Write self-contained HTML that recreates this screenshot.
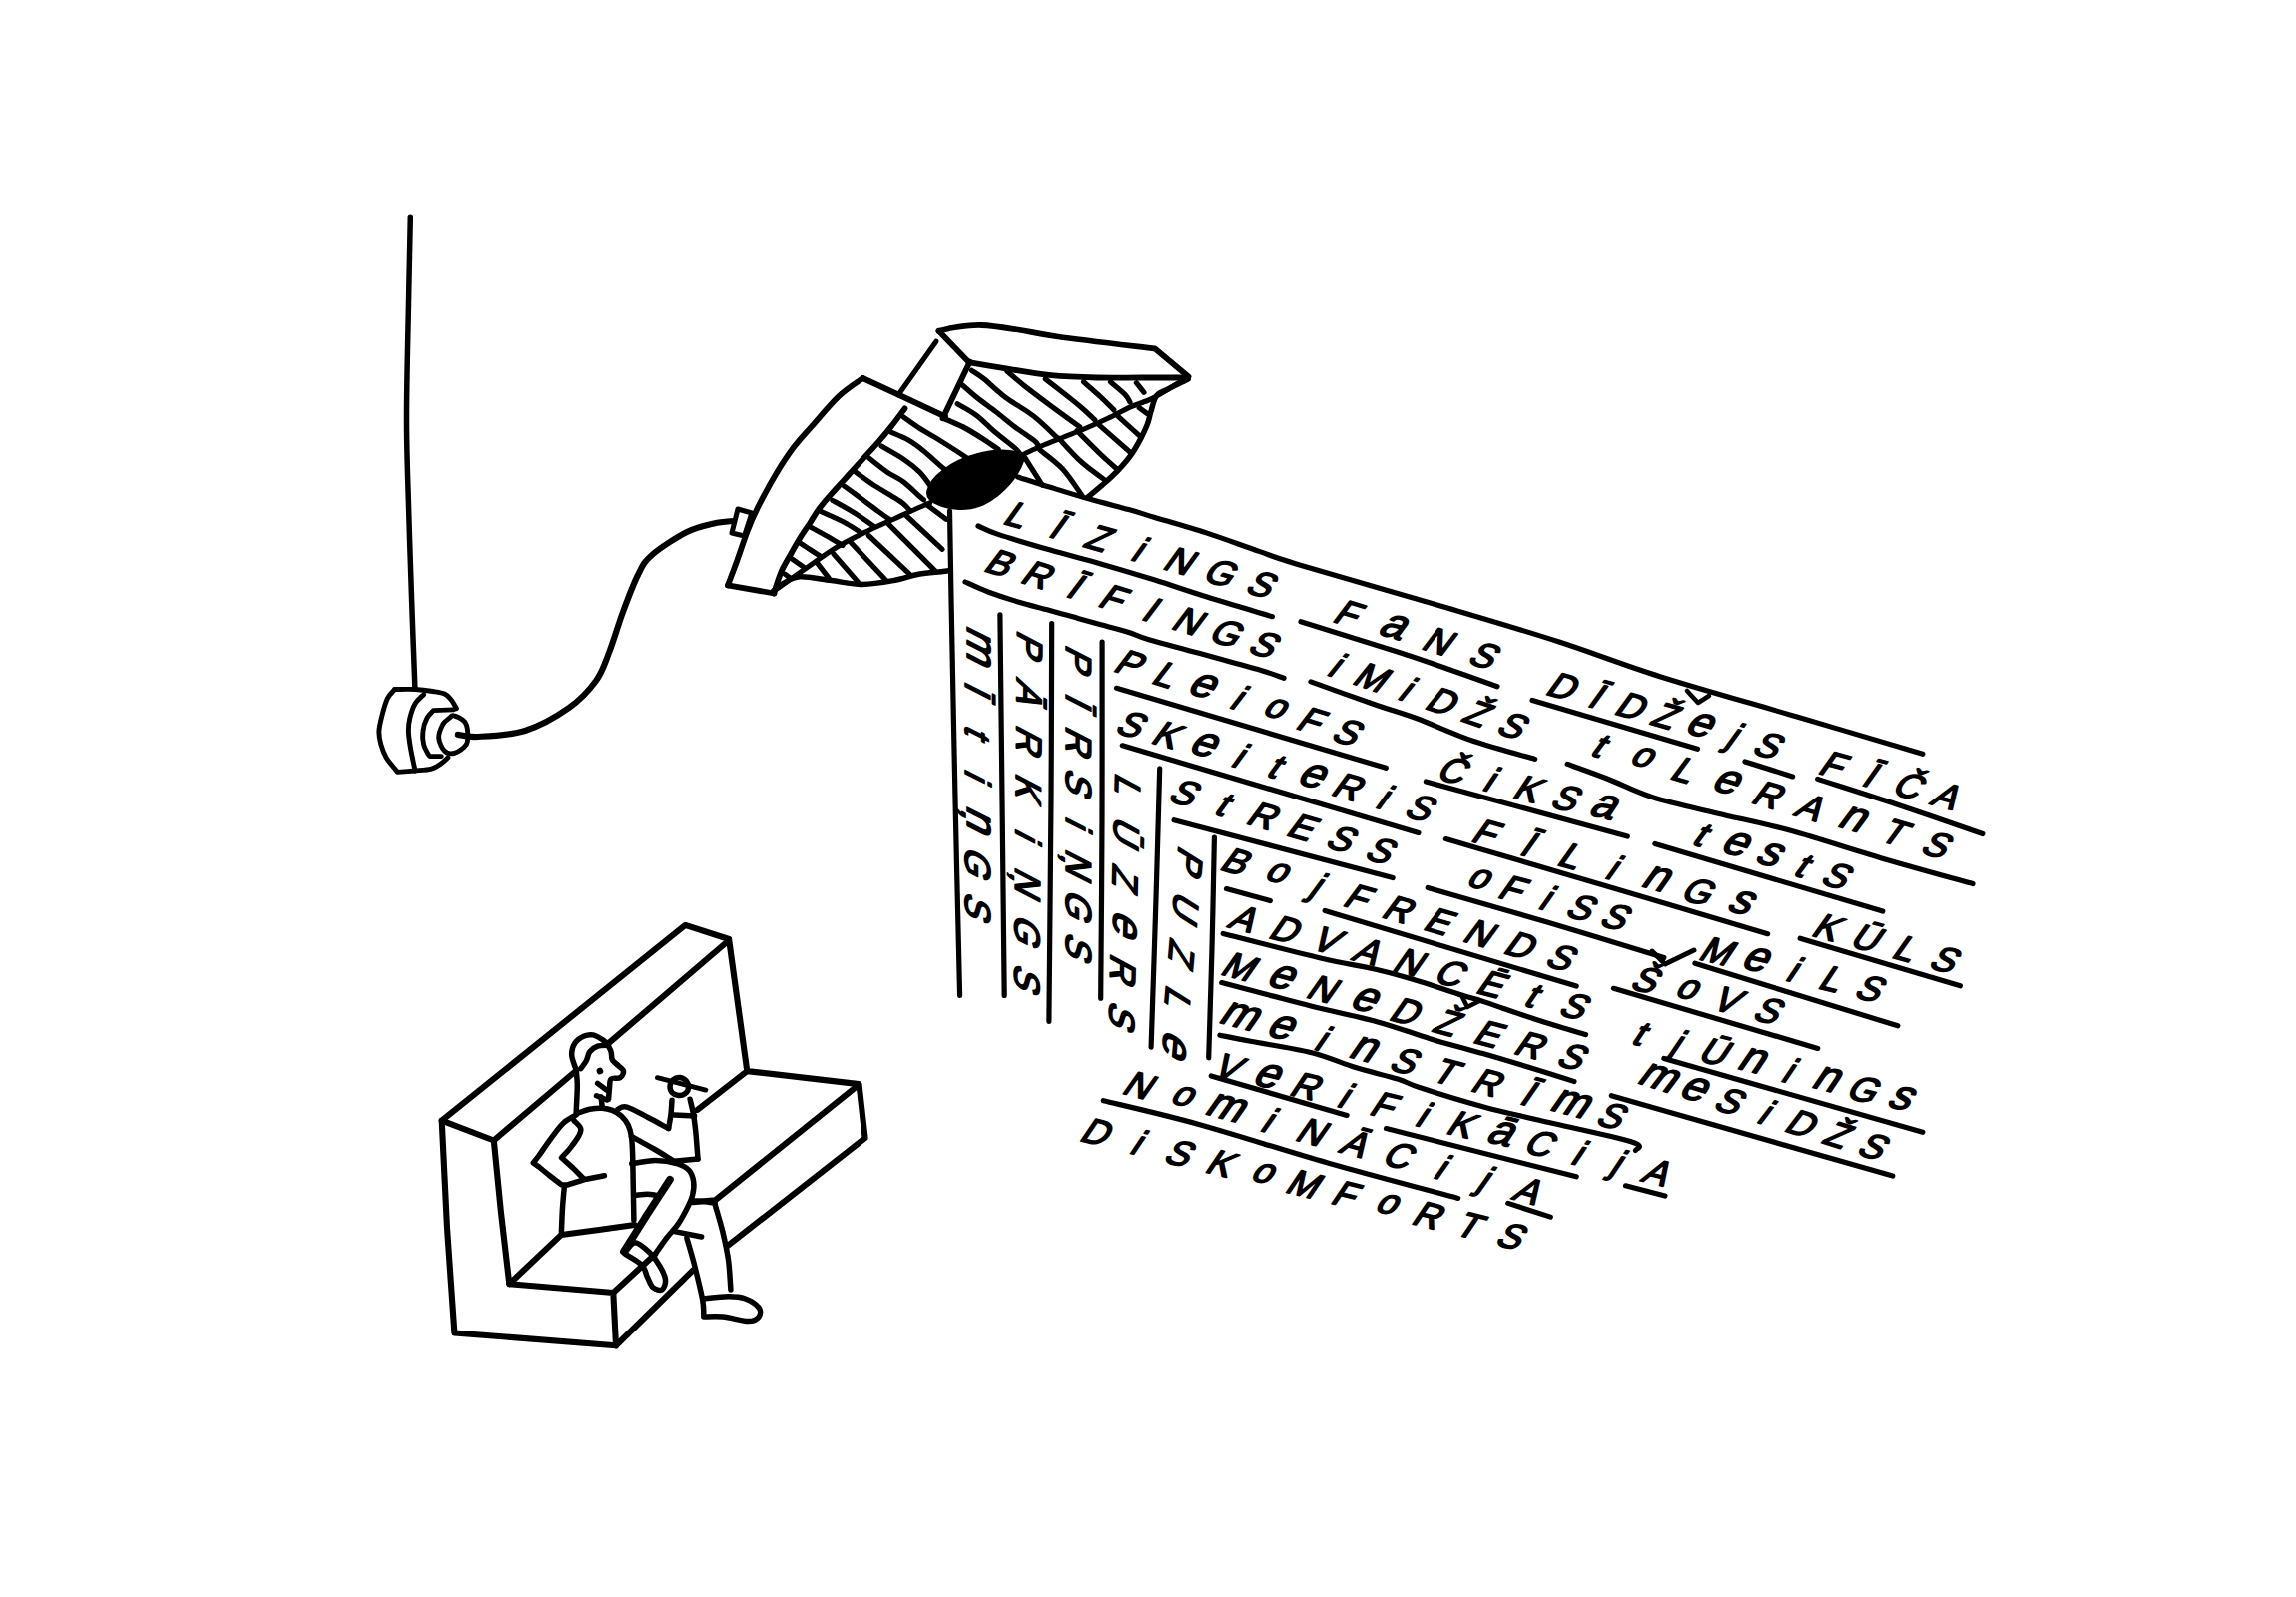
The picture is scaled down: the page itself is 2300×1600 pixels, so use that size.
<!DOCTYPE html>
<html><head><meta charset="utf-8"><title>drawing</title>
<style>html,body{margin:0;padding:0;background:#fff;width:2300px;height:1600px;overflow:hidden}
svg{display:block}</style></head>
<body><svg xmlns="http://www.w3.org/2000/svg" width="2300" height="1600" viewBox="0 0 2300 1600">
<rect width="2300" height="1600" fill="#fff"/>
<g stroke="#000" stroke-linecap="round" stroke-linejoin="round" fill="none">
<path d="M411.3,217.2 C411,230 410.3,260.2 409.7,293.8 C409.1,327.4 407.5,382.4 407.5,418.8 C407.5,455.2 408.8,481.2 409.7,512.5 C410.6,543.8 411.8,576.9 412.8,606.3 C413.8,635.7 415.4,675.2 415.9,689" stroke-width="5.5" fill="none"/>
<path d="M395.6,690.5 C394.4,692 390.5,695.4 388.4,699.7 C386.3,704 384.5,710.7 383.1,716.2 C381.7,721.7 380.1,727.7 379.9,732.6 C379.7,737.5 380.6,741.3 381.8,745.7 C383,750.1 384.7,754.7 387.1,758.9 C389.5,763.1 394.4,768.3 396.3,770.7 C398.2,773.1 398,773 398.3,773.4 C401.2,773.2 410.3,772.5 416,772 C421.7,771.5 428.1,771.3 432.5,770.1 C436.9,768.9 439.6,766.7 442.3,764.8 C445,762.9 447.8,759.9 448.9,758.9" stroke-width="4.9" fill="none"/>
<path d="M395.6,690.5 C399,690.5 409.6,690.2 416,690.5 C422.4,690.8 428.9,691.7 433.8,692.5 C438.7,693.3 442.5,693.7 445.6,695.1 C448.7,696.5 450.2,698.6 452.2,701 C454.2,703.4 456.5,708.2 457.4,709.6" stroke-width="4.9" fill="none"/>
<path d="M424.6,695.8 C423.2,697.3 418.3,701.1 416,705 C413.7,708.9 411.9,714.8 410.8,719.4 C409.7,724 409.3,727.7 409.4,732.6 C409.5,737.5 410.5,743.5 411.4,749 C412.3,754.5 413.9,761.7 414.7,765.5 C415.5,769.3 415.8,770.9 416,772" stroke-width="4.9" fill="none"/>
<path d="M454.8,710.9 L434.4,711.6 C433.3,712.9 429.6,715.9 427.9,719.4 C426.1,722.9 424.4,728.2 423.9,732.6 C423.3,737 423.7,741.9 424.6,745.7 C425.5,749.5 428.1,753.6 429.2,755.6 C430.3,757.6 430.7,757.3 431,757.6 L442.3,757.6" stroke-width="4.9" fill="none"/>
<path d="M454.8,716.8 C457.3,717.3 463,720.1 465.3,722.7 C467.6,725.3 468.3,728.8 468.6,732.6 C468.9,736.4 469.5,742.1 467.3,745.7 C465.1,749.3 459.1,753.2 455.5,754.3 C451.9,755.4 448.2,754.8 445.6,752.3 C443,749.8 440,743.6 439.7,739.2 C439.4,734.8 441.9,729.3 443.6,726 C445.4,722.7 448.3,720.9 450.2,719.4 C452.1,717.9 452.3,716.2 454.8,716.8 Z" stroke-width="4.9" fill="none"/>
<path d="M458.8,735.9 C462.2,736.2 467.8,738.6 479,738 C490.2,737.4 510.8,736.8 526,732 C541.2,727.2 558.2,717.3 570,709 C581.8,700.7 590.3,691.2 597,682 C603.7,672.8 605.5,665.5 610,654 C614.5,642.5 619.2,626 624,613 C628.8,600 634.2,585.5 639,576 C643.8,566.5 644.8,563.2 653,556 C661.2,548.8 677.7,538.2 688,533 C698.3,527.8 707.2,526.3 715,524.5 C722.8,522.7 731.7,522.4 735,522" stroke-width="6.1" fill="none"/>
<!--LAMP-->
<path d="M864.3,379 C860.3,382 848.7,389.1 840.2,397.1 C831.7,405.1 820.7,418.6 813.2,427.1 C805.7,435.6 801.1,440.1 795.1,448.1 C789.1,456.1 783.1,465.2 777.1,475.2 C771.1,485.2 763.9,498.8 759.1,508.3 C754.4,517.8 752.1,523.3 748.6,532.3 C745.1,541.3 741.3,553.4 738,562.4 C734.7,571.4 730.5,582.4 729,586.4" stroke-width="5.8" fill="none"/>
<path d="M729,586.4 L775.6,594.5" stroke-width="5.8" fill="none"/>
<path d="M775,594.5 C776.2,590.9 779.8,579.1 782.5,572.8 C785.2,566.5 788.2,562.1 791.3,556.5 C794.4,550.9 798,544.4 801.3,539 C804.6,533.6 808.2,528.8 811.3,524 C814.4,519.2 816.5,515 820.1,510.2 C823.7,505.4 828.4,500 832.6,495.2 C836.8,490.4 841.3,485.6 845.1,481.4 C848.9,477.2 851.4,474.3 855.2,470.1 C859,465.9 863.5,461 867.7,456.4 C871.9,451.8 876,447.4 880.2,442.6 C884.4,437.8 888.3,433.1 892.7,427.6 C897.1,422.1 904.2,412.4 906.5,409.4" stroke-width="5.8" fill="none"/>
<path d="M864.3,379 L900,395.5 L947,417.5" stroke-width="5.8" fill="none"/>
<path d="M739,510 L753,514 L745.5,537 L733,534 Z" stroke-width="5.1" fill="white"/>
<path d="M937.9,342.2 L900,395.8" stroke-width="5.1" fill="none"/>
<path d="M971.7,362.6 L944.5,419.3" stroke-width="5.8" fill="none"/>
<path d="M945.8,419.4 C949,420.8 958.5,424.6 965,428 C971.5,431.4 979.2,436.3 985,440 C990.8,443.7 997.5,448.6 1000,450.3" stroke-width="5.5" fill="none"/>
<path d="M940.5,331.8 C943.4,331.2 950.8,329 958,328 C965.2,327 973.3,325.6 983.6,326 C993.9,326.4 1007.3,328.6 1020,330.5 C1032.7,332.4 1037.2,334.3 1060,337.5 C1082.8,340.7 1140.8,347.5 1157,349.5 L1190.5,377.5" stroke-width="5.8" fill="none"/>
<path d="M970.6,363.1 C976.8,364.2 994.1,367.2 1007.9,369.4 C1021.7,371.6 1038.1,374.7 1053.2,376.2 C1068.3,377.7 1083.4,378.1 1098.5,378.5 C1113.6,378.9 1128.5,378.5 1143.8,378.5 C1159,378.5 1182.3,378.5 1190,378.5" stroke-width="5.8" fill="none"/>
<path d="M940.5,331.8 L970.6,363.1" stroke-width="5.8" fill="none"/>
<path d="M1190,380 C1186.7,381.7 1175.2,387.2 1170,390 C1164.8,392.8 1161.3,392.9 1158.5,396.6 C1155.7,400.4 1154.4,407.8 1152.9,412.5 C1151.4,417.2 1151.2,420.4 1149.5,424.9 C1147.8,429.4 1145.5,434.3 1142.7,439.6 C1139.9,444.9 1136.5,451.1 1132.5,456.6 C1128.5,462.1 1123.6,467.6 1118.9,472.5 C1114.2,477.4 1108.9,482 1104.2,486.1 C1099.5,490.2 1092.9,495.5 1090.6,497.4" stroke-width="5.5" fill="none"/>
<path d="M1024.9,455.5 C1027.7,454.2 1035.3,450.4 1041.9,447.6 C1048.5,444.8 1057,441.5 1064.6,438.5 C1072.1,435.5 1079.7,432.7 1087.2,429.5 C1094.8,426.3 1102.4,422.9 1109.9,419.3 C1117.5,415.7 1125,411.3 1132.5,407.9 C1140,404.5 1146.7,403.2 1155.2,398.9 C1163.7,394.6 1177.7,385.2 1183.5,381.9 C1189.3,378.6 1188.9,379.5 1190,379" stroke-width="5.1" fill="none"/>
<path d="M775,592 C775.4,591.7 772.1,594.2 777.5,590.4 C782.9,586.6 797.4,576.2 807.6,569.1 C817.8,562 828.5,554.1 838.9,547.8 C849.3,541.5 860.8,536.1 870.2,531.5 C879.6,526.9 887.9,523.5 895.2,520.2 C902.5,516.9 907.9,514.2 914,511.5 C920.1,508.8 928.7,505.2 931.6,503.9" stroke-width="5.1" fill="none"/>
<path d="M773.8,592.9 C775.7,591.4 780.4,586.6 785,584.1 C789.6,581.6 793.4,578.2 801.3,577.8 C809.2,577.4 822.2,580.3 832.6,581.6 C843,582.9 853.5,585.4 863.9,585.4 C874.3,585.4 885.8,583.3 895.2,581.6 C904.6,579.9 912.4,576.8 920.3,575.3 C928.2,573.8 937.5,573.4 942.8,572.8 C948.1,572.2 950.5,571.8 952,571.6" stroke-width="5.5" fill="none"/>
<path d="M905.1,417.8 C907.8,419.7 916,425.7 921.4,429.2 C926.8,432.7 930.8,434.7 937.6,438.9 C944.4,443.1 956.6,450.9 962,454.4 C967.4,457.9 968.8,459.2 970.2,460.1" stroke-width="5.2" fill="none"/>
<path d="M892.9,433.2 C895.6,434.4 903.8,437.5 909.2,440.6 C914.6,443.7 919.3,447.1 925.4,452 C931.5,456.9 941.4,466.4 945.8,469.9 C950.1,473.4 950.5,472.5 951.5,473" stroke-width="5.2" fill="none"/>
<path d="M883.1,447.1 C886.8,449.3 898.7,455.8 905.1,460.1 C911.5,464.4 916.6,468.4 921.4,473.1 C926.1,477.9 930.9,485.4 933.6,488.6 C936.3,491.9 936.9,491.9 937.6,492.6" stroke-width="5.2" fill="none"/>
<path d="M870.9,459.3 C873.9,461.6 883.1,469.2 888.8,473.1 C894.5,477 899.7,478.8 905.1,482.9 C910.5,487 918,494.5 921.4,497.5 C924.8,500.5 924.7,500.2 925.4,500.8" stroke-width="5.2" fill="none"/>
<path d="M857.1,473.1 C860.4,475.4 870.6,483 876.6,486.9 C882.6,490.8 888.1,493.7 892.9,496.7 C897.6,499.7 901.9,502.2 905.1,504.8 C908.3,507.4 910.9,510.8 912,512" stroke-width="5.2" fill="none"/>
<path d="M845.5,487 C848.6,489.3 858.5,496.5 864.4,500.8 C870.3,505.1 876.1,509.6 880.7,513 C885.3,516.4 890.1,519.7 892,521" stroke-width="5.2" fill="none"/>
<path d="M833.9,501.4 C837.6,503.5 849.1,509.7 856,514 C862.9,518.3 871.8,524.8 875,527" stroke-width="5.2" fill="none"/>
<path d="M822.6,512.7 C826.3,514.4 838.3,519.5 845,523 C851.7,526.5 860,532.2 863,534" stroke-width="5.2" fill="none"/>
<path d="M811.3,527.7 C814.1,529.2 822.5,533.9 828,537 C833.5,540.1 841.3,544.9 844,546.5" stroke-width="5.2" fill="none"/>
<path d="M801.3,544 C803.1,545.2 808.5,548.7 812,551 C815.5,553.3 820.8,556.7 822.6,557.8" stroke-width="5.2" fill="none"/>
<path d="M793.8,560.3 L806.3,569.1" stroke-width="5.2" fill="none"/>
<path d="M786.3,575.3 L791.3,579.1" stroke-width="5.2" fill="none"/>
<path d="M927.8,505.2 L947.8,520.2" stroke-width="5.2" fill="none"/>
<path d="M907.8,516.5 L944.1,550.3" stroke-width="5.2" fill="none"/>
<path d="M890.2,525.2 L936.6,571.6" stroke-width="5.2" fill="none"/>
<path d="M870.2,536.5 L911.5,575.3" stroke-width="5.2" fill="none"/>
<path d="M852.7,544 L887.7,581.6" stroke-width="5.2" fill="none"/>
<path d="M835.1,555.3 L861.4,585.4" stroke-width="5.2" fill="none"/>
<path d="M817.6,562.8 L830.1,579.1" stroke-width="5.2" fill="none"/>
<path d="M973.5,371.3 C975.6,372.7 980.4,375.4 986,379.9 C991.6,384.4 998.8,391.9 1007.1,398.1 C1015.4,404.3 1027,410.4 1035.8,417.3 C1044.6,424.2 1055.8,435.6 1059.8,439.3" stroke-width="5.2" fill="none"/>
<path d="M1009,372.2 C1011.9,374.6 1019.3,381.2 1026.2,386.6 C1033.1,392 1040.9,397.9 1050.2,404.8 C1059.5,411.7 1076.5,424 1081.8,427.8" stroke-width="5.2" fill="none"/>
<path d="M1047.3,379.9 C1050.2,382.1 1058.5,388.5 1064.6,393.3 C1070.7,398.1 1078.3,404.1 1083.7,408.7 C1089.1,413.3 1094.8,418.9 1097,421" stroke-width="5.2" fill="none"/>
<path d="M1085.6,382.8 C1088.5,385.4 1097.8,393.4 1102.9,398.1 C1108,402.8 1113.8,408.9 1116,411" stroke-width="5.2" fill="none"/>
<path d="M1112.5,382.8 C1114.9,384.9 1123.7,391.8 1126.9,395.2 C1130.2,398.6 1131.2,401.7 1132,403" stroke-width="5.2" fill="none"/>
<path d="M1138.4,383.7 L1146,393.3" stroke-width="5.2" fill="none"/>
<path d="M964,385.7 C966.4,387.8 972.7,393.6 978.3,398.1 C983.9,402.6 991.1,407.6 997.5,412.5 C1003.9,417.4 1010.3,423 1016.7,427.8 C1023.1,432.6 1031.9,438.2 1035.8,441.2 C1039.7,444.2 1039.3,445.2 1040,446" stroke-width="5.2" fill="none"/>
<path d="M959.2,404.8 C962.4,406.7 971.9,411.5 978.3,416.3 C984.7,421.1 991.1,428.2 997.5,433.6 C1003.9,439 1012.6,445.3 1016.7,448.9 C1020.8,452.5 1021.1,454 1022,455" stroke-width="5.2" fill="none"/>
<path d="M1027,459 L1044.2,486.1" stroke-width="5.2" fill="none"/>
<path d="M1041.9,451 C1045.7,454.2 1057.6,462.4 1064.6,470 C1071.6,477.6 1080.6,491.9 1083.8,496.3" stroke-width="5.2" fill="none"/>
<path d="M1060.7,439.3 C1064.5,443.3 1075.9,456.3 1083.7,463.3 C1091.5,470.3 1103.6,478.5 1107.6,481.5" stroke-width="5.2" fill="none"/>
<path d="M1078.9,431.7 C1082.9,435.7 1096,449.1 1102.9,455.6 C1109.8,462.2 1117.2,468.4 1120.1,471" stroke-width="5.2" fill="none"/>
<path d="M1101,425.9 L1131.6,452.7" stroke-width="5.2" fill="none"/>
<path d="M1120.1,417.3 L1142.2,437.4" stroke-width="5.2" fill="none"/>
<path d="M1141.2,408.7 L1148.9,414.4" stroke-width="5.2" fill="none"/>
<path d="M929.5,493 C932,478 955,462 978,456 C995,451 1015,450 1026,457 C1022,475 1005,495 985,505 C970,512 950,510 940,505 C933,502 929,498 929.5,493 Z" stroke-width="2.9" fill="black"/>
<!--SCREEN-->
<path d="M951.5,512 C951.8,526.7 952.1,552 953,600 C953.9,648 955.6,733.8 957,800 C958.4,866.2 960.8,964.5 961.6,997.4" stroke-width="5.2" fill="none"/>
<path d="M1001.9,615.8 C1002.2,646.5 1003.3,736.4 1004,800 C1004.7,863.6 1005.8,964.5 1006.2,997.4" stroke-width="5.2" fill="none"/>
<path d="M1053.7,624.5 C1053.6,653.8 1053.5,733.5 1053,800 C1052.5,866.5 1051.2,986.1 1050.9,1023.3" stroke-width="5.2" fill="none"/>
<path d="M1104.1,643.2 C1104.1,672.7 1104.2,760.5 1104,820 C1103.8,879.5 1102.9,970.2 1102.7,1000.2" stroke-width="5.2" fill="none"/>
<path d="M1161.7,769.9 C1161.1,791.6 1159.4,853.5 1158,900 C1156.6,946.5 1153.9,1024.3 1153.1,1049.2" stroke-width="5.2" fill="none"/>
<path d="M1216.4,839 C1216,857.5 1215,913.2 1214,950 C1213,986.8 1211.2,1041.5 1210.7,1059.8" stroke-width="5.2" fill="none"/>
<path d="M1019.6,477.9 C1025,479.6 1040.3,484.6 1052.3,488.3 C1064.3,492 1078.4,496.4 1091.5,500.1 C1104.6,503.8 1119.8,507.6 1130.7,510.6 C1141.6,513.6 1143.7,514.5 1156.8,518.4 C1169.9,522.3 1191.7,528.4 1209.1,534.1 C1226.5,539.8 1246.1,547.2 1261.3,552.4 C1276.5,557.6 1268.5,556 1300,565.4 C1331.5,574.8 1406.3,596.1 1450,609 C1493.7,621.9 1526.5,631.5 1562,643 C1597.5,654.5 1623.2,665.2 1662.9,677.7 C1702.6,690.2 1756.2,705.1 1800,718 C1843.8,730.9 1904.8,749.1 1925.8,755.3" stroke-width="5.2" fill="none"/>
<path d="M980,527 C983.3,528.4 988,531.4 1000,535.4 C1012,539.4 1034.9,546.1 1052.3,551.1 C1069.7,556.1 1087.1,560.4 1104.5,565.4 C1121.9,570.4 1139.4,575.6 1156.8,581.1 C1174.2,586.6 1189.5,592 1209.1,598.1 C1228.7,604.2 1263.5,614.4 1274.4,617.7" stroke-width="5.2" fill="none"/>
<path d="M1303,622.7 C1319.2,627.8 1375.5,645.1 1400,653 C1424.5,660.9 1433.3,664.2 1450,670 C1466.7,675.8 1491.7,684.8 1500,687.7" stroke-width="5.2" fill="none"/>
<path d="M1535.1,701.5 L1700.4,750.3" stroke-width="5.2" fill="none"/>
<path d="M1748,762.9 L1795.6,777.9" stroke-width="5.2" fill="none"/>
<path d="M1820.7,780.4 C1833.9,784.7 1872.5,796.8 1900,806 C1927.5,815.2 1971.6,830.6 1985.9,835.5" stroke-width="5.2" fill="none"/>
<path d="M967,583 C970.8,584.7 981.2,589.7 990,593 C998.8,596.3 1010,600 1020,603 C1030,606 1040,608.3 1050,611 C1060,613.7 1071.7,617.1 1080,619.4 C1088.3,621.7 1091.7,622.7 1100,625 C1108.3,627.3 1121.7,630.6 1130,633.2 C1138.3,635.8 1138.3,637 1150,640.5 C1161.7,644 1181.7,649 1200,654 C1218.3,659 1245.7,666.3 1260,670.5 C1274.3,674.7 1281.7,677.8 1286,679.3" stroke-width="5.2" fill="none"/>
<path d="M1313,682.9 C1323.3,686.6 1357.5,698.9 1375,705 C1392.5,711.1 1401.2,713.1 1418,719.3 C1434.8,725.5 1455.6,735.4 1475.6,742.3 C1495.5,749.1 1527.3,757.4 1537.7,760.4" stroke-width="5.2" fill="none"/>
<path d="M1570.2,765.4 C1576.8,767.8 1595.8,774.4 1610,780 C1624.2,785.6 1637.3,793 1655.6,798.8 C1673.9,804.6 1697.1,809.5 1720,815 C1742.9,820.5 1764.5,824.4 1792.8,832.1 C1821.1,839.9 1859.5,852.6 1890,861.5 C1920.5,870.4 1961.7,881.6 1976,885.6" stroke-width="5.2" fill="none"/>
<path d="M1118.5,689.3 L1388.3,769.3" stroke-width="5.2" fill="none"/>
<path d="M1428.4,783 L1630.3,838" stroke-width="5.2" fill="none"/>
<path d="M1657.9,845.5 L1885.8,913.1" stroke-width="5.2" fill="none"/>
<path d="M1124.3,746.8 L1420.9,834.4" stroke-width="5.2" fill="none"/>
<path d="M1448.4,840.6 C1453.8,842.2 1452,841.6 1480.6,850 C1509.2,858.4 1571.7,876.7 1620,891 C1668.3,905.3 1745.5,928.2 1770.6,935.7" stroke-width="5.2" fill="none"/>
<path d="M1803.1,940.2 L1963.4,987.8" stroke-width="5.2" fill="none"/>
<path d="M1176.1,821.7 L1395.1,879.6" stroke-width="5.2" fill="none"/>
<path d="M1430.2,889.5 C1450.2,895.2 1510.5,912.3 1550,924 C1589.5,935.7 1647.4,953.7 1666.9,959.6" stroke-width="5.2" fill="none"/>
<path d="M1697.9,965.2 L1900.8,1027.8" stroke-width="5.2" fill="none"/>
<path d="M1228.5,890.6 L1272.3,902.6" stroke-width="5.2" fill="none"/>
<path d="M1327.1,912.5 L1579.2,988.1" stroke-width="5.2" fill="none"/>
<path d="M1616.5,990.3 L1820.7,1050.4" stroke-width="5.2" fill="none"/>
<path d="M1225.2,935.5 C1241.5,939.6 1297,954 1322.8,960 C1348.6,966 1363.4,967.8 1380,971.7 C1396.6,975.6 1408.4,979.1 1422.6,983.4 C1436.8,987.7 1454.5,993.9 1465.1,997.3 C1475.7,1000.7 1474,999.5 1486.4,1003.6 C1498.8,1007.7 1522.6,1016.2 1539.6,1021.7 C1556.6,1027.2 1580.4,1034.1 1588.6,1036.6" stroke-width="5.2" fill="none"/>
<path d="M1666.9,1060.4 L1925.8,1134.3" stroke-width="5.2" fill="none"/>
<path d="M1223.7,984.6 C1231.5,986.6 1255.2,992.9 1270.2,996.8 C1285.2,1000.7 1295.7,1003.7 1314,1008.2 C1332.3,1012.7 1360.1,1018.4 1380,1023.9 C1399.9,1029.3 1415.5,1035.6 1433.2,1040.9 C1450.9,1046.2 1468.7,1050.7 1486.4,1055.8 C1504.1,1060.9 1524.5,1067.1 1539.6,1071.7 C1554.7,1076.3 1570.8,1081.5 1577,1083.5" stroke-width="5.2" fill="none"/>
<path d="M1614.3,1097.7 L1895.8,1178.1" stroke-width="5.2" fill="none"/>
<path d="M1221.9,1037.2 C1227,1038.2 1237.2,1040.4 1252.6,1043.3 C1267.9,1046.2 1296.5,1050.3 1314,1054.7 C1331.5,1059.1 1343.5,1065.2 1357.8,1069.6 C1372.1,1074 1389.2,1077.6 1400,1081 C1410.8,1084.4 1408.2,1085.1 1422.6,1089.8 C1437,1094.5 1466.9,1103.7 1486.4,1109 C1505.9,1114.3 1515,1116 1539.6,1121.8 C1564.2,1127.6 1617.5,1138.6 1634,1143.7 C1650.5,1148.8 1637.7,1151 1638.4,1152.5" stroke-width="5.2" fill="none"/>
<path d="M1213.2,1078 L1349.1,1117.4" stroke-width="5.2" fill="none"/>
<path d="M1388.5,1130.6 L1579.2,1178.8" stroke-width="5.2" fill="none"/>
<path d="M1628.5,1187.8 L1667.9,1198.1" stroke-width="5.2" fill="none"/>
<path d="M1105.3,1102.7 C1121.1,1106.6 1162.5,1115.8 1200,1126.2 C1237.5,1136.6 1286.5,1152.6 1330,1165 C1373.5,1177.4 1438.9,1194.5 1460.7,1200.4" stroke-width="5.2" fill="none"/>
<path d="M1510.8,1205.4 L1553.3,1219.1" stroke-width="5.2" fill="none"/>
<path d="M1690,692 L1701,704 L1712,697" stroke-width="4.6" fill="none"/>
<path d="M1655,953 L1668,966 L1697,952" stroke-width="4.9" fill="none"/>
<path d="M1465,999 L1470,1009 L1482,1003" stroke-width="4.6" fill="none"/>
<!--TEXT-->
<g font-family="&quot;Liberation Sans&quot;, sans-serif" fill="black" stroke="black" text-anchor="middle">
<text transform="translate(1020.9,515.8) rotate(15.8) skewX(-20)" y="13" font-size="36" stroke-width="1.7">L</text>
<text transform="translate(1061.6,527.3) rotate(15.8) skewX(-20)" y="13" font-size="36" stroke-width="1.7">Ī</text>
<text transform="translate(1102.4,538.9) rotate(15.8) skewX(-20)" y="13" font-size="36" stroke-width="1.7">Z</text>
<text transform="translate(1143.1,550.4) rotate(15.8) skewX(-20)" y="13" font-size="36" stroke-width="1.7">i</text>
<text transform="translate(1183.8,561.9) rotate(15.8) skewX(-20)" y="13" font-size="36" stroke-width="1.7">N</text>
<text transform="translate(1224.6,573.5) rotate(15.8) skewX(-20)" y="13" font-size="36" stroke-width="1.7">G</text>
<text transform="translate(1265.3,585) rotate(15.8) skewX(-20)" y="13" font-size="36" stroke-width="1.7">S</text>
<text transform="translate(1352,614.4) rotate(17) skewX(-20)" y="13" font-size="36" stroke-width="1.7">F</text>
<text transform="translate(1397.5,628.3) rotate(17) skewX(-20)" y="11.2" font-size="43.2" stroke-width="1.7">a</text>
<text transform="translate(1443,642.2) rotate(17) skewX(-20)" y="13" font-size="36" stroke-width="1.7">N</text>
<text transform="translate(1488.5,656.1) rotate(17) skewX(-20)" y="13" font-size="36" stroke-width="1.7">S</text>
<text transform="translate(1567.4,687.4) rotate(15.9) skewX(-20)" y="13" font-size="36" stroke-width="1.7">D</text>
<text transform="translate(1601.7,697.2) rotate(15.9) skewX(-20)" y="13" font-size="36" stroke-width="1.7">Ī</text>
<text transform="translate(1636,707) rotate(15.9) skewX(-20)" y="13" font-size="36" stroke-width="1.7">D</text>
<text transform="translate(1670.3,716.8) rotate(15.9) skewX(-20)" y="13" font-size="36" stroke-width="1.7">Ž</text>
<text transform="translate(1704.6,726.6) rotate(15.9) skewX(-20)" y="11.2" font-size="43.2" stroke-width="1.7">e</text>
<text transform="translate(1738.9,736.4) rotate(15.9) skewX(-20)" y="13" font-size="36" stroke-width="1.7">j</text>
<text transform="translate(1773.2,746.2) rotate(15.9) skewX(-20)" y="13" font-size="36" stroke-width="1.7">S</text>
<text transform="translate(1838,766) rotate(15.4) skewX(-20)" y="13" font-size="36" stroke-width="1.7">F</text>
<text transform="translate(1875.9,776.4) rotate(15.4) skewX(-20)" y="13" font-size="36" stroke-width="1.7">Ī</text>
<text transform="translate(1913.7,786.8) rotate(15.4) skewX(-20)" y="13" font-size="36" stroke-width="1.7">Č</text>
<text transform="translate(1951.6,797.2) rotate(15.4) skewX(-20)" y="13" font-size="36" stroke-width="1.7">A</text>
<text transform="translate(1003.9,564.1) rotate(17.1) skewX(-20)" y="13" font-size="36" stroke-width="1.7">B</text>
<text transform="translate(1041.6,575.7) rotate(17.1) skewX(-20)" y="13" font-size="36" stroke-width="1.7">R</text>
<text transform="translate(1079.4,587.3) rotate(17.1) skewX(-20)" y="13" font-size="36" stroke-width="1.7">Ī</text>
<text transform="translate(1117.1,598.9) rotate(17.1) skewX(-20)" y="13" font-size="36" stroke-width="1.7">F</text>
<text transform="translate(1154.9,610.5) rotate(17.1) skewX(-20)" y="13" font-size="36" stroke-width="1.7">I</text>
<text transform="translate(1192.6,622.1) rotate(17.1) skewX(-20)" y="13" font-size="36" stroke-width="1.7">N</text>
<text transform="translate(1230.4,633.7) rotate(17.1) skewX(-20)" y="13" font-size="36" stroke-width="1.7">G</text>
<text transform="translate(1268.1,645.3) rotate(17.1) skewX(-20)" y="13" font-size="36" stroke-width="1.7">S</text>
<text transform="translate(1340.5,666.2) rotate(18.8) skewX(-20)" y="13" font-size="36" stroke-width="1.7">i</text>
<text transform="translate(1375.9,678.3) rotate(18.8) skewX(-20)" y="13" font-size="36" stroke-width="1.7">M</text>
<text transform="translate(1411.2,690.3) rotate(18.8) skewX(-20)" y="13" font-size="36" stroke-width="1.7">i</text>
<text transform="translate(1446.6,702.4) rotate(18.8) skewX(-20)" y="13" font-size="36" stroke-width="1.7">D</text>
<text transform="translate(1481.9,714.4) rotate(18.8) skewX(-20)" y="13" font-size="36" stroke-width="1.7">Ž</text>
<text transform="translate(1517.3,726.5) rotate(18.8) skewX(-20)" y="13" font-size="36" stroke-width="1.7">S</text>
<text transform="translate(1604.7,746.2) rotate(16.5) skewX(-20)" y="13" font-size="36" stroke-width="1.7">t</text>
<text transform="translate(1646.8,758.7) rotate(16.5) skewX(-20)" y="9.4" font-size="36" stroke-width="1.7">o</text>
<text transform="translate(1689,771.2) rotate(16.5) skewX(-20)" y="13" font-size="36" stroke-width="1.7">L</text>
<text transform="translate(1731.1,783.7) rotate(16.5) skewX(-20)" y="11.2" font-size="43.2" stroke-width="1.7">e</text>
<text transform="translate(1773.2,796.2) rotate(16.5) skewX(-20)" y="13" font-size="36" stroke-width="1.7">R</text>
<text transform="translate(1815.4,808.7) rotate(16.5) skewX(-20)" y="13" font-size="36" stroke-width="1.7">A</text>
<text transform="translate(1857.5,821.2) rotate(16.5) skewX(-20)" y="11.2" font-size="43.2" stroke-width="1.7">n</text>
<text transform="translate(1899.7,833.7) rotate(16.5) skewX(-20)" y="13" font-size="36" stroke-width="1.7">T</text>
<text transform="translate(1941.8,846.2) rotate(16.5) skewX(-20)" y="13" font-size="36" stroke-width="1.7">S</text>
<text transform="translate(1133.5,664.4) rotate(17.5) skewX(-20)" y="13" font-size="36" stroke-width="1.7">P</text>
<text transform="translate(1169.8,675.8) rotate(17.5) skewX(-20)" y="13" font-size="36" stroke-width="1.7">L</text>
<text transform="translate(1206.2,687.3) rotate(17.5) skewX(-20)" y="11.2" font-size="43.2" stroke-width="1.7">e</text>
<text transform="translate(1242.5,698.7) rotate(17.5) skewX(-20)" y="13" font-size="36" stroke-width="1.7">i</text>
<text transform="translate(1278.8,710.1) rotate(17.5) skewX(-20)" y="9.4" font-size="36" stroke-width="1.7">o</text>
<text transform="translate(1315.2,721.6) rotate(17.5) skewX(-20)" y="13" font-size="36" stroke-width="1.7">F</text>
<text transform="translate(1351.5,733) rotate(17.5) skewX(-20)" y="13" font-size="36" stroke-width="1.7">S</text>
<text transform="translate(1457.6,771.4) rotate(13.8) skewX(-20)" y="13" font-size="36" stroke-width="1.7">Č</text>
<text transform="translate(1495.3,780.7) rotate(13.8) skewX(-20)" y="13" font-size="36" stroke-width="1.7">i</text>
<text transform="translate(1533.1,790) rotate(13.8) skewX(-20)" y="13" font-size="36" stroke-width="1.7">K</text>
<text transform="translate(1570.8,799.3) rotate(13.8) skewX(-20)" y="13" font-size="36" stroke-width="1.7">S</text>
<text transform="translate(1608.6,808.6) rotate(13.8) skewX(-20)" y="11.2" font-size="43.2" stroke-width="1.7">a</text>
<text transform="translate(1706.6,836) rotate(16.9) skewX(-20)" y="13" font-size="36" stroke-width="1.7">t</text>
<text transform="translate(1740.4,846.3) rotate(16.9) skewX(-20)" y="11.2" font-size="43.2" stroke-width="1.7">e</text>
<text transform="translate(1774.2,856.6) rotate(16.9) skewX(-20)" y="11.2" font-size="43.2" stroke-width="1.7">s</text>
<text transform="translate(1808,866.9) rotate(16.9) skewX(-20)" y="13" font-size="36" stroke-width="1.7">t</text>
<text transform="translate(1841.8,877.2) rotate(16.9) skewX(-20)" y="13" font-size="36" stroke-width="1.7">S</text>
<text transform="translate(1135.1,725.4) rotate(16.1) skewX(-20)" y="13" font-size="36" stroke-width="1.7">S</text>
<text transform="translate(1171.3,735.9) rotate(16.1) skewX(-20)" y="13" font-size="36" stroke-width="1.7">K</text>
<text transform="translate(1207.5,746.4) rotate(16.1) skewX(-20)" y="11.2" font-size="43.2" stroke-width="1.7">e</text>
<text transform="translate(1243.7,756.8) rotate(16.1) skewX(-20)" y="13" font-size="36" stroke-width="1.7">i</text>
<text transform="translate(1279.9,767.3) rotate(16.1) skewX(-20)" y="13" font-size="36" stroke-width="1.7">t</text>
<text transform="translate(1316.1,777.8) rotate(16.1) skewX(-20)" y="11.2" font-size="43.2" stroke-width="1.7">e</text>
<text transform="translate(1352.3,788.2) rotate(16.1) skewX(-20)" y="13" font-size="36" stroke-width="1.7">R</text>
<text transform="translate(1388.5,798.7) rotate(16.1) skewX(-20)" y="13" font-size="36" stroke-width="1.7">i</text>
<text transform="translate(1424.7,809.2) rotate(16.1) skewX(-20)" y="13" font-size="36" stroke-width="1.7">S</text>
<text transform="translate(1491,834.1) rotate(15.5) skewX(-20)" y="13" font-size="36" stroke-width="1.7">F</text>
<text transform="translate(1533.5,845.9) rotate(15.5) skewX(-20)" y="13" font-size="36" stroke-width="1.7">Ī</text>
<text transform="translate(1575.9,857.6) rotate(15.5) skewX(-20)" y="13" font-size="36" stroke-width="1.7">L</text>
<text transform="translate(1618.4,869.4) rotate(15.5) skewX(-20)" y="13" font-size="36" stroke-width="1.7">i</text>
<text transform="translate(1660.9,881.1) rotate(15.5) skewX(-20)" y="11.2" font-size="43.2" stroke-width="1.7">n</text>
<text transform="translate(1703.3,892.9) rotate(15.5) skewX(-20)" y="13" font-size="36" stroke-width="1.7">G</text>
<text transform="translate(1745.8,904.6) rotate(15.5) skewX(-20)" y="11.2" font-size="43.2" stroke-width="1.7">s</text>
<text transform="translate(1832.7,928.9) rotate(15.4) skewX(-20)" y="13" font-size="36" stroke-width="1.7">K</text>
<text transform="translate(1871.8,939.7) rotate(15.4) skewX(-20)" y="13" font-size="36" stroke-width="1.7">Ū</text>
<text transform="translate(1910.8,950.4) rotate(15.4) skewX(-20)" y="13" font-size="36" stroke-width="1.7">L</text>
<text transform="translate(1949.9,961.2) rotate(15.4) skewX(-20)" y="13" font-size="36" stroke-width="1.7">S</text>
<text transform="translate(1188.4,794) rotate(16.4) skewX(-20)" y="13" font-size="36" stroke-width="1.7">S</text>
<text transform="translate(1227.7,805.6) rotate(16.4) skewX(-20)" y="13" font-size="36" stroke-width="1.7">t</text>
<text transform="translate(1267.1,817.2) rotate(16.4) skewX(-20)" y="13" font-size="36" stroke-width="1.7">R</text>
<text transform="translate(1306.4,828.7) rotate(16.4) skewX(-20)" y="13" font-size="36" stroke-width="1.7">E</text>
<text transform="translate(1345.8,840.3) rotate(16.4) skewX(-20)" y="13" font-size="36" stroke-width="1.7">S</text>
<text transform="translate(1385.1,851.9) rotate(16.4) skewX(-20)" y="13" font-size="36" stroke-width="1.7">S</text>
<text transform="translate(1483.1,881.1) rotate(15.2) skewX(-20)" y="9.4" font-size="36" stroke-width="1.7">o</text>
<text transform="translate(1517.4,890.4) rotate(15.2) skewX(-20)" y="13" font-size="36" stroke-width="1.7">F</text>
<text transform="translate(1551.7,899.8) rotate(15.2) skewX(-20)" y="13" font-size="36" stroke-width="1.7">i</text>
<text transform="translate(1586,909.1) rotate(15.2) skewX(-20)" y="13" font-size="36" stroke-width="1.7">S</text>
<text transform="translate(1620.3,918.4) rotate(15.2) skewX(-20)" y="13" font-size="36" stroke-width="1.7">S</text>
<text transform="translate(1722.3,952.7) rotate(13.7) skewX(-20)" y="13" font-size="36" stroke-width="1.7">M</text>
<text transform="translate(1760.5,962) rotate(13.7) skewX(-20)" y="11.2" font-size="43.2" stroke-width="1.7">e</text>
<text transform="translate(1798.8,971.4) rotate(13.7) skewX(-20)" y="13" font-size="36" stroke-width="1.7">i</text>
<text transform="translate(1837,980.7) rotate(13.7) skewX(-20)" y="13" font-size="36" stroke-width="1.7">L</text>
<text transform="translate(1875.2,990) rotate(13.7) skewX(-20)" y="13" font-size="36" stroke-width="1.7">S</text>
<text transform="translate(1240,863) rotate(16.4) skewX(-20)" y="13" font-size="36" stroke-width="1.7">B</text>
<text transform="translate(1280.8,875) rotate(16.4) skewX(-20)" y="9.4" font-size="36" stroke-width="1.7">o</text>
<text transform="translate(1321.5,887) rotate(16.4) skewX(-20)" y="13" font-size="36" stroke-width="1.7">j</text>
<text transform="translate(1362.2,899) rotate(16.4) skewX(-20)" y="13" font-size="36" stroke-width="1.7">F</text>
<text transform="translate(1403,911) rotate(16.4) skewX(-20)" y="13" font-size="36" stroke-width="1.7">R</text>
<text transform="translate(1443.8,923) rotate(16.4) skewX(-20)" y="13" font-size="36" stroke-width="1.7">E</text>
<text transform="translate(1484.5,935) rotate(16.4) skewX(-20)" y="13" font-size="36" stroke-width="1.7">N</text>
<text transform="translate(1525.2,947) rotate(16.4) skewX(-20)" y="13" font-size="36" stroke-width="1.7">D</text>
<text transform="translate(1566,959) rotate(16.4) skewX(-20)" y="13" font-size="36" stroke-width="1.7">S</text>
<text transform="translate(1651,981.5) rotate(14) skewX(-20)" y="13" font-size="36" stroke-width="1.7">Š</text>
<text transform="translate(1691.8,991.7) rotate(14) skewX(-20)" y="9.4" font-size="36" stroke-width="1.7">o</text>
<text transform="translate(1732.5,1001.9) rotate(14) skewX(-20)" y="13" font-size="36" stroke-width="1.7">V</text>
<text transform="translate(1773.3,1012.1) rotate(14) skewX(-20)" y="13" font-size="36" stroke-width="1.7">S</text>
<text transform="translate(1248,920.1) rotate(14.8) skewX(-20)" y="13" font-size="36" stroke-width="1.7">A</text>
<text transform="translate(1289.4,931.1) rotate(14.8) skewX(-20)" y="13" font-size="36" stroke-width="1.7">D</text>
<text transform="translate(1330.8,942) rotate(14.8) skewX(-20)" y="13" font-size="36" stroke-width="1.7">V</text>
<text transform="translate(1372.2,953) rotate(14.8) skewX(-20)" y="13" font-size="36" stroke-width="1.7">A</text>
<text transform="translate(1413.6,964) rotate(14.8) skewX(-20)" y="13" font-size="36" stroke-width="1.7">N</text>
<text transform="translate(1455,974.9) rotate(14.8) skewX(-20)" y="13" font-size="36" stroke-width="1.7">C</text>
<text transform="translate(1496.4,985.9) rotate(14.8) skewX(-20)" y="13" font-size="36" stroke-width="1.7">Ē</text>
<text transform="translate(1537.8,996.8) rotate(14.8) skewX(-20)" y="13" font-size="36" stroke-width="1.7">t</text>
<text transform="translate(1579.2,1007.8) rotate(14.8) skewX(-20)" y="13" font-size="36" stroke-width="1.7">S</text>
<text transform="translate(1645.3,1035) rotate(14.1) skewX(-20)" y="13" font-size="36" stroke-width="1.7">t</text>
<text transform="translate(1682.5,1044.4) rotate(14.1) skewX(-20)" y="13" font-size="36" stroke-width="1.7">j</text>
<text transform="translate(1719.7,1053.7) rotate(14.1) skewX(-20)" y="13" font-size="36" stroke-width="1.7">Ū</text>
<text transform="translate(1756.9,1063.1) rotate(14.1) skewX(-20)" y="11.2" font-size="43.2" stroke-width="1.7">n</text>
<text transform="translate(1794.2,1072.4) rotate(14.1) skewX(-20)" y="13" font-size="36" stroke-width="1.7">i</text>
<text transform="translate(1831.4,1081.8) rotate(14.1) skewX(-20)" y="11.2" font-size="43.2" stroke-width="1.7">n</text>
<text transform="translate(1868.6,1091.1) rotate(14.1) skewX(-20)" y="13" font-size="36" stroke-width="1.7">G</text>
<text transform="translate(1905.8,1100.5) rotate(14.1) skewX(-20)" y="11.2" font-size="43.2" stroke-width="1.7">s</text>
<text transform="translate(1243.5,968.4) rotate(15.1) skewX(-20)" y="13" font-size="36" stroke-width="1.7">M</text>
<text transform="translate(1285.2,979.6) rotate(15.1) skewX(-20)" y="11.2" font-size="43.2" stroke-width="1.7">e</text>
<text transform="translate(1326.9,990.9) rotate(15.1) skewX(-20)" y="13" font-size="36" stroke-width="1.7">N</text>
<text transform="translate(1368.6,1002.1) rotate(15.1) skewX(-20)" y="11.2" font-size="43.2" stroke-width="1.7">e</text>
<text transform="translate(1410.2,1013.3) rotate(15.1) skewX(-20)" y="13" font-size="36" stroke-width="1.7">D</text>
<text transform="translate(1451.9,1024.5) rotate(15.1) skewX(-20)" y="13" font-size="36" stroke-width="1.7">Ž</text>
<text transform="translate(1493.6,1035.8) rotate(15.1) skewX(-20)" y="13" font-size="36" stroke-width="1.7">E</text>
<text transform="translate(1535.3,1047) rotate(15.1) skewX(-20)" y="13" font-size="36" stroke-width="1.7">R</text>
<text transform="translate(1577,1058.2) rotate(15.1) skewX(-20)" y="13" font-size="36" stroke-width="1.7">S</text>
<text transform="translate(1662.9,1080.4) rotate(17.4) skewX(-20)" y="11.2" font-size="43.2" stroke-width="1.7">m</text>
<text transform="translate(1698.8,1091.7) rotate(17.4) skewX(-20)" y="11.2" font-size="43.2" stroke-width="1.7">e</text>
<text transform="translate(1734.7,1102.9) rotate(17.4) skewX(-20)" y="13" font-size="36" stroke-width="1.7">S</text>
<text transform="translate(1770.6,1114.2) rotate(17.4) skewX(-20)" y="13" font-size="36" stroke-width="1.7">i</text>
<text transform="translate(1806.4,1125.5) rotate(17.4) skewX(-20)" y="13" font-size="36" stroke-width="1.7">D</text>
<text transform="translate(1842.3,1136.7) rotate(17.4) skewX(-20)" y="13" font-size="36" stroke-width="1.7">Ž</text>
<text transform="translate(1878.2,1148) rotate(17.4) skewX(-20)" y="13" font-size="36" stroke-width="1.7">S</text>
<text transform="translate(1243.5,1018.8) rotate(14.8) skewX(-20)" y="11.2" font-size="43.2" stroke-width="1.7">m</text>
<text transform="translate(1284.9,1029.8) rotate(14.8) skewX(-20)" y="11.2" font-size="43.2" stroke-width="1.7">e</text>
<text transform="translate(1326.4,1040.7) rotate(14.8) skewX(-20)" y="13" font-size="36" stroke-width="1.7">i</text>
<text transform="translate(1367.8,1051.7) rotate(14.8) skewX(-20)" y="11.2" font-size="43.2" stroke-width="1.7">n</text>
<text transform="translate(1409.3,1062.6) rotate(14.8) skewX(-20)" y="13" font-size="36" stroke-width="1.7">S</text>
<text transform="translate(1450.7,1073.6) rotate(14.8) skewX(-20)" y="13" font-size="36" stroke-width="1.7">T</text>
<text transform="translate(1492.2,1084.5) rotate(14.8) skewX(-20)" y="13" font-size="36" stroke-width="1.7">R</text>
<text transform="translate(1533.6,1095.5) rotate(14.8) skewX(-20)" y="13" font-size="36" stroke-width="1.7">Ī</text>
<text transform="translate(1575.1,1106.4) rotate(14.8) skewX(-20)" y="11.2" font-size="43.2" stroke-width="1.7">m</text>
<text transform="translate(1616.5,1117.4) rotate(14.8) skewX(-20)" y="13" font-size="36" stroke-width="1.7">S</text>
<text transform="translate(1232,1069) rotate(13.7) skewX(-20)" y="13" font-size="36" stroke-width="1.7">V</text>
<text transform="translate(1271.1,1078.5) rotate(13.7) skewX(-20)" y="11.2" font-size="43.2" stroke-width="1.7">e</text>
<text transform="translate(1310.2,1088.1) rotate(13.7) skewX(-20)" y="13" font-size="36" stroke-width="1.7">R</text>
<text transform="translate(1349.3,1097.6) rotate(13.7) skewX(-20)" y="13" font-size="36" stroke-width="1.7">i</text>
<text transform="translate(1388.4,1107.2) rotate(13.7) skewX(-20)" y="13" font-size="36" stroke-width="1.7">F</text>
<text transform="translate(1427.5,1116.7) rotate(13.7) skewX(-20)" y="13" font-size="36" stroke-width="1.7">i</text>
<text transform="translate(1466.5,1126.3) rotate(13.7) skewX(-20)" y="13" font-size="36" stroke-width="1.7">K</text>
<text transform="translate(1505.6,1135.8) rotate(13.7) skewX(-20)" y="11.2" font-size="43.2" stroke-width="1.7">ā</text>
<text transform="translate(1544.7,1145.4) rotate(13.7) skewX(-20)" y="13" font-size="36" stroke-width="1.7">C</text>
<text transform="translate(1583.8,1154.9) rotate(13.7) skewX(-20)" y="13" font-size="36" stroke-width="1.7">i</text>
<text transform="translate(1622.9,1164.5) rotate(13.7) skewX(-20)" y="13" font-size="36" stroke-width="1.7">j</text>
<text transform="translate(1662,1174) rotate(13.7) skewX(-20)" y="13" font-size="36" stroke-width="1.7">A</text>
<text transform="translate(1142.9,1087) rotate(15.1) skewX(-20)" y="13" font-size="36" stroke-width="1.7">N</text>
<text transform="translate(1186.2,1098.7) rotate(15.1) skewX(-20)" y="9.4" font-size="36" stroke-width="1.7">o</text>
<text transform="translate(1229.6,1110.4) rotate(15.1) skewX(-20)" y="11.2" font-size="43.2" stroke-width="1.7">m</text>
<text transform="translate(1272.9,1122.2) rotate(15.1) skewX(-20)" y="13" font-size="36" stroke-width="1.7">i</text>
<text transform="translate(1316.3,1133.9) rotate(15.1) skewX(-20)" y="13" font-size="36" stroke-width="1.7">N</text>
<text transform="translate(1359.6,1145.6) rotate(15.1) skewX(-20)" y="13" font-size="36" stroke-width="1.7">Ā</text>
<text transform="translate(1403,1157.3) rotate(15.1) skewX(-20)" y="13" font-size="36" stroke-width="1.7">C</text>
<text transform="translate(1446.3,1169.1) rotate(15.1) skewX(-20)" y="13" font-size="36" stroke-width="1.7">i</text>
<text transform="translate(1489.7,1180.8) rotate(15.1) skewX(-20)" y="13" font-size="36" stroke-width="1.7">j</text>
<text transform="translate(1533,1192.5) rotate(15.1) skewX(-20)" y="13" font-size="36" stroke-width="1.7">A</text>
<text transform="translate(1100.3,1134) rotate(14) skewX(-20)" y="13" font-size="36" stroke-width="1.7">D</text>
<text transform="translate(1141.8,1144.4) rotate(14) skewX(-20)" y="13" font-size="36" stroke-width="1.7">i</text>
<text transform="translate(1183.4,1154.8) rotate(14) skewX(-20)" y="13" font-size="36" stroke-width="1.7">S</text>
<text transform="translate(1225,1165.2) rotate(14) skewX(-20)" y="13" font-size="36" stroke-width="1.7">K</text>
<text transform="translate(1266.5,1175.6) rotate(14) skewX(-20)" y="9.4" font-size="36" stroke-width="1.7">o</text>
<text transform="translate(1308,1186) rotate(14) skewX(-20)" y="13" font-size="36" stroke-width="1.7">M</text>
<text transform="translate(1349.6,1196.3) rotate(14) skewX(-20)" y="13" font-size="36" stroke-width="1.7">F</text>
<text transform="translate(1391.1,1206.7) rotate(14) skewX(-20)" y="9.4" font-size="36" stroke-width="1.7">o</text>
<text transform="translate(1432.7,1217.1) rotate(14) skewX(-20)" y="13" font-size="36" stroke-width="1.7">R</text>
<text transform="translate(1474.2,1227.5) rotate(14) skewX(-20)" y="13" font-size="36" stroke-width="1.7">T</text>
<text transform="translate(1515.8,1237.9) rotate(14) skewX(-20)" y="13" font-size="36" stroke-width="1.7">S</text>
<text transform="translate(980.3,649) rotate(90) skewX(-27)" y="11.2" font-size="43.2" stroke-width="1.7">m</text>
<text transform="translate(980.3,692.7) rotate(90) skewX(-27)" y="13" font-size="36" stroke-width="1.7">Ī</text>
<text transform="translate(980.3,736.3) rotate(90) skewX(-27)" y="13" font-size="36" stroke-width="1.7">t</text>
<text transform="translate(980.3,780) rotate(90) skewX(-27)" y="13" font-size="36" stroke-width="1.7">i</text>
<text transform="translate(980.3,823.7) rotate(90) skewX(-27)" y="11.2" font-size="43.2" stroke-width="1.7">ņ</text>
<text transform="translate(980.3,867.3) rotate(90) skewX(-27)" y="13" font-size="36" stroke-width="1.7">G</text>
<text transform="translate(980.3,911) rotate(90) skewX(-27)" y="13" font-size="36" stroke-width="1.7">S</text>
<text transform="translate(1032.1,649) rotate(90.5) skewX(-27)" y="13" font-size="36" stroke-width="1.7">P</text>
<text transform="translate(1031.7,696.7) rotate(90.5) skewX(-27)" y="13" font-size="36" stroke-width="1.7">Ā</text>
<text transform="translate(1031.3,744.4) rotate(90.5) skewX(-27)" y="13" font-size="36" stroke-width="1.7">R</text>
<text transform="translate(1030.9,792.1) rotate(90.5) skewX(-27)" y="13" font-size="36" stroke-width="1.7">K</text>
<text transform="translate(1030.5,839.9) rotate(90.5) skewX(-27)" y="13" font-size="36" stroke-width="1.7">i</text>
<text transform="translate(1030.1,887.6) rotate(90.5) skewX(-27)" y="13" font-size="36" stroke-width="1.7">Ņ</text>
<text transform="translate(1029.7,935.3) rotate(90.5) skewX(-27)" y="13" font-size="36" stroke-width="1.7">G</text>
<text transform="translate(1029.3,983) rotate(90.5) skewX(-27)" y="13" font-size="36" stroke-width="1.7">S</text>
<text transform="translate(1081.1,663.3) rotate(90) skewX(-27)" y="13" font-size="36" stroke-width="1.7">P</text>
<text transform="translate(1081.1,704.4) rotate(90) skewX(-27)" y="13" font-size="36" stroke-width="1.7">Ī</text>
<text transform="translate(1081.1,745.6) rotate(90) skewX(-27)" y="13" font-size="36" stroke-width="1.7">R</text>
<text transform="translate(1081.1,786.7) rotate(90) skewX(-27)" y="13" font-size="36" stroke-width="1.7">S</text>
<text transform="translate(1081.1,827.9) rotate(90) skewX(-27)" y="13" font-size="36" stroke-width="1.7">i</text>
<text transform="translate(1081.1,869) rotate(90) skewX(-27)" y="13" font-size="36" stroke-width="1.7">Ņ</text>
<text transform="translate(1081.1,910.2) rotate(90) skewX(-27)" y="13" font-size="36" stroke-width="1.7">G</text>
<text transform="translate(1081.1,951.3) rotate(90) skewX(-27)" y="13" font-size="36" stroke-width="1.7">S</text>
<text transform="translate(1130,790) rotate(91.4) skewX(-27)" y="13" font-size="36" stroke-width="1.7">L</text>
<text transform="translate(1128.9,836.1) rotate(91.4) skewX(-27)" y="13" font-size="36" stroke-width="1.7">Ū</text>
<text transform="translate(1127.7,882.2) rotate(91.4) skewX(-27)" y="13" font-size="36" stroke-width="1.7">Z</text>
<text transform="translate(1126.6,928.2) rotate(91.4) skewX(-27)" y="11.2" font-size="43.2" stroke-width="1.7">e</text>
<text transform="translate(1125.4,974.3) rotate(91.4) skewX(-27)" y="13" font-size="36" stroke-width="1.7">R</text>
<text transform="translate(1124.3,1020.4) rotate(91.4) skewX(-27)" y="13" font-size="36" stroke-width="1.7">S</text>
<text transform="translate(1192,866) rotate(95) skewX(-27)" y="13" font-size="36" stroke-width="1.7">P</text>
<text transform="translate(1188,911.8) rotate(95) skewX(-27)" y="13" font-size="36" stroke-width="1.7">U</text>
<text transform="translate(1184,957.5) rotate(95) skewX(-27)" y="13" font-size="36" stroke-width="1.7">Z</text>
<text transform="translate(1180,1003.2) rotate(95) skewX(-27)" y="13" font-size="36" stroke-width="1.7">L</text>
<text transform="translate(1176,1049) rotate(95) skewX(-27)" y="11.2" font-size="43.2" stroke-width="1.7">e</text>
</g>
<!--SOFA-->
<path d="M494.8,1142.5 L442.7,1122.7 L686.4,926.9 L730.1,941" stroke-width="6.1" fill="none"/>
<path d="M494.8,1142.5 L575,1074.5" stroke-width="6.1" fill="none"/>
<path d="M607.6,1046.9 L725.5,946" stroke-width="6.1" fill="none"/>
<path d="M442.7,1122.7 L448,1230 L455.4,1335.5 L617,1348.2" stroke-width="6.1" fill="none"/>
<path d="M494.8,1142.5 L502,1215 L510.3,1286.2 L614.3,1295 L617,1348.2" stroke-width="6.1" fill="none"/>
<path d="M510.3,1286.2 L562.4,1236.9" stroke-width="6.1" fill="none"/>
<path d="M562.4,1236.9 L600,1232 L635.7,1227" stroke-width="6.1" fill="none"/>
<path d="M730.1,941 L748.3,1073.1 L860.5,1086.1 L866.6,1140.2 L728.3,1248.4" stroke-width="6.1" fill="none"/>
<path d="M858.5,1088.1 L716.3,1202.3 L694.2,1204.3" stroke-width="6.1" fill="none"/>
<path d="M748.3,1073.1 L698.2,1112.1" stroke-width="6.1" fill="none"/>
<path d="M614.3,1295 L656.2,1256.4" stroke-width="6.1" fill="none"/>
<path d="M617,1348.2 L694.2,1272.4" stroke-width="6.1" fill="none"/>
<path d="M577.2,1072 C576.5,1069.5 572.9,1061.7 572.7,1057.2 C572.5,1052.7 574,1048 576.1,1044.8 C578.2,1041.6 582.1,1039.3 585.1,1038 C588.1,1036.7 591.1,1036.3 594.1,1036.9 C597.1,1037.5 600.7,1039.9 603.1,1041.4 C605.5,1042.9 607.8,1045.2 608.8,1045.9" stroke-width="5.5" fill="none"/>
<path d="M581.7,1070.7 C582.6,1069.4 585.8,1065.6 587.3,1062.8 C588.8,1060 588.8,1056.2 590.7,1053.8 C592.6,1051.4 595.6,1049.3 598.6,1048.2 C601.6,1047.1 607.1,1047.3 608.8,1047.1" stroke-width="5.5" fill="none"/>
<path d="M608.8,1046.5 C609.3,1047.7 611.4,1051.3 612.1,1053.8 C612.9,1056.3 612.2,1059.5 613.3,1061.7 C614.4,1064 617,1065.4 618.9,1067.3 C620.8,1069.2 624.1,1070.9 624.5,1073 C624.9,1075.1 623.3,1078.4 621.2,1079.7 C619.1,1081 613.9,1079.2 612.1,1080.9 C610.3,1082.6 610.9,1086.5 610.5,1089.9 C610.1,1093.3 609.7,1099.6 609.5,1101.5" stroke-width="5.5" fill="none"/>
<path d="M598.6,1085.4 L607.6,1092.1" stroke-width="5.5" fill="none"/>
<path d="M597.5,1097.8 L608,1102" stroke-width="5.5" fill="none"/>
<path d="M600.9,1073 L601,1073.2" stroke-width="6.5" fill="none"/>
<path d="M577.2,1072 C577.4,1074.6 578.3,1080.7 578.3,1087.6 C578.3,1094.5 577.4,1109.3 577.2,1113.6" stroke-width="5.5" fill="none"/>
<path d="M602,1099 L603.1,1107.9" stroke-width="5.5" fill="none"/>
<path d="M577.2,1115.8 C579.5,1115 586.4,1112.2 590.7,1111.3 C595,1110.4 599.3,1110 603.1,1110.2 C606.9,1110.4 610.1,1111.1 613.3,1112.4 C616.5,1113.7 619.7,1115.6 622.3,1118.1 C624.9,1120.5 627.4,1123.7 629.1,1127.1 C630.8,1130.5 631.6,1133.7 632.4,1138.4 C633.1,1143.1 633.3,1146.7 633.6,1155.3 C633.9,1163.9 634.1,1178.9 634.3,1190 C634.5,1201.1 634.8,1216.8 634.9,1222.1" stroke-width="5.5" fill="none"/>
<path d="M577.2,1117 C575.1,1118.3 568.8,1121.2 564.8,1124.8 C560.8,1128.4 557.6,1133 553.5,1138.4 C549.4,1143.9 543.2,1153.1 540,1157.5 C536.8,1161.9 535.2,1163.8 534.3,1165 L540,1169 C541.8,1170.5 547.2,1175 551,1178 C554.8,1181 560.6,1185.3 562.5,1186.8 L568.2,1187 L587.3,1181.2 L605.4,1177.8" stroke-width="5.5" fill="none"/>
<path d="M575,1122.6 C576.1,1123.9 581,1127.9 581.7,1130.5 C582.5,1133.1 581.2,1135.2 579.5,1138.4 C577.8,1141.6 574.4,1146 571.6,1149.6 C568.8,1153.2 564,1158.1 562.5,1159.8 L573.8,1169.9 L585.1,1181.2" stroke-width="5.5" fill="none"/>
<path d="M565.3,1189 C565,1192.5 564,1202.5 563.5,1210 C563,1217.5 562.6,1230 562.4,1234" stroke-width="5.5" fill="none"/>
<path d="M618.9,1111.3 C620.4,1110.9 622.7,1107.6 627.9,1109.1 C633.1,1110.5 643,1116.4 650,1120 C657,1123.6 666.3,1128.8 669.6,1130.5" stroke-width="5.5" fill="none"/>
<path d="M669.6,1130.5 C670,1128.2 671.3,1121.6 671.9,1116.9 C672.5,1112.2 672.8,1104.7 673,1102.3" stroke-width="5.5" fill="none"/>
<path d="M632.4,1138.4 C636.2,1140.5 647.9,1146.9 655,1151 C662.1,1155.1 671.9,1161.2 675.3,1163.2 L699,1160.9" stroke-width="5.5" fill="none"/>
<path d="M699,1160.9 C698.6,1156.2 697.5,1140.2 696.7,1132.7 C695.9,1125.2 695.3,1121 694.4,1115.8 C693.5,1110.5 691.6,1103.6 691.1,1101.2" stroke-width="5.5" fill="none"/>
<path d="M675.3,1116.9 L695.6,1118.1" stroke-width="5.5" fill="none"/>
<path d="M671,1088.8 C671,1083 676,1079 681,1079.5 C686,1080 690,1085 689.5,1090 C689,1095 684,1098 679.5,1097.5 C674.5,1097 671,1093.5 671,1088.8 Z" stroke-width="5.5" fill="white"/>
<path d="M658.4,1079.7 L706.8,1092.1" stroke-width="4.9" fill="none"/>
<path d="M632.7,1165.8 C636.7,1165.2 648.7,1162.4 656.4,1162.4 C664.1,1162.4 673.3,1164.1 678.9,1165.8 C684.5,1167.5 687.6,1169.5 690.2,1172.5 C692.8,1175.5 694.1,1179.7 694.7,1183.8 C695.3,1187.9 694.7,1192.8 693.6,1197.3 C692.5,1201.8 690.4,1206 687.9,1210.9 C685.4,1215.8 682.3,1221.7 678.9,1226.6 C675.5,1231.5 671.4,1235.3 667.6,1240.2 C663.9,1245.1 658.3,1253.4 656.4,1256" stroke-width="5.5" fill="none"/>
<path d="M671,1181.6 C667.2,1187.5 655.7,1205 648,1217 C640.3,1229 628.7,1247.6 624.8,1253.7" stroke-width="7.5" fill="none"/>
<path d="M625.9,1255 C627.6,1253.3 632,1244.7 636.1,1244.7 C640.2,1244.7 646.6,1250.9 650.7,1254.8 C654.8,1258.7 658.3,1263.8 660.9,1268.3 C663.5,1272.8 666.1,1278 666.5,1281.9 C666.9,1285.9 665.2,1290.7 663.1,1292 C661,1293.3 656.5,1291.9 654.1,1289.8 C651.7,1287.7 650.4,1283.4 648.5,1279.6 C646.6,1275.8 646.6,1271.1 642.8,1267.2 C639,1263.3 628.7,1257.9 625.9,1256" stroke-width="5.5" fill="none"/>
<path d="M637.2,1197.3 C639.1,1197.1 645.3,1196.2 648.5,1196.2 C651.7,1196.2 655.1,1197.1 656.4,1197.3" stroke-width="5.5" fill="none"/>
<path d="M674.4,1233.4 L702.6,1239" stroke-width="5.5" fill="none"/>
<path d="M694.7,1203 C696.4,1203.1 701.4,1203.1 705,1203.5 C708.6,1203.9 714.2,1204.9 716.1,1205.2" stroke-width="5.5" fill="none"/>
<path d="M687.9,1240.2 C689.2,1244.9 693.2,1258 695.8,1268.3 C698.4,1278.6 702.2,1294.1 703.7,1302.2 C705.2,1310.3 704.6,1314.4 704.8,1316.8" stroke-width="5.5" fill="none"/>
<path d="M716.1,1206.4 C717.4,1211.1 721.8,1225.1 724,1234.5 C726.2,1243.9 728.3,1253.1 729.6,1262.7 C730.9,1272.3 731.5,1287.1 731.9,1292" stroke-width="5.5" fill="none"/>
<path d="M704.8,1301 C708.9,1300.6 722.6,1298.8 729.6,1298.8 C736.6,1298.8 741.4,1299.1 746.5,1301 C751.6,1302.9 757.8,1307 760.1,1310 C762.4,1313 761.8,1316.8 760.1,1319.1 C758.4,1321.4 755.9,1323.6 749.9,1323.6 C743.9,1323.6 731.5,1319.8 724,1319.1 C716.5,1318.3 708,1319.1 704.8,1319.1" stroke-width="5.5" fill="none"/>
</g></svg></body></html>
